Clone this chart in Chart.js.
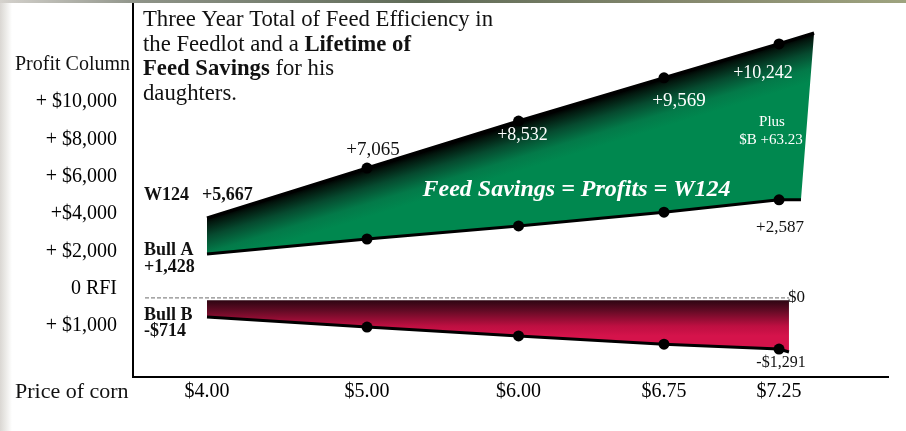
<!DOCTYPE html>
<html><head><meta charset="utf-8">
<script src="https://cdn.jsdelivr.net/npm/chart.js@4.4.1/dist/chart.umd.min.js"></script>
<style>
html,body{margin:0;padding:0;}
body{width:906px;height:431px;overflow:hidden;position:relative;background:linear-gradient(to right,#dad7d3 0px,#ecebe8 6px,#fff 12px);}
#topstrip{position:absolute;left:0;top:0;width:906px;height:3px;background:linear-gradient(to right,#d5d2cd 0,#8e9388 140px,#5f6b57 420px,#878a6f 700px,#9ea37f 906px);}
canvas{position:absolute;left:0;top:0;}
</style></head><body>
<div id="topstrip"></div>
<canvas id="c" width="906" height="431"></canvas>
<script>
// ---- data ----
const prices = ['$4.00', '$5.00', '$6.00', '$6.75', '$7.25'];
const priceSlot = [0, 1, 1.947, 2.856, 3.575];           // x position of each corn price
const rowLabels = ['+ $1,000', '0 RFI', '+ $2,000', '+$4,000', '+ $6,000', '+ $8,000', '+ $10,000'];
const w124Height = [2.89, 4.23, 5.49, 6.65, 7.56];        // top edge of green ribbon
const bullAHeight = [1.93, 2.33, 2.68, 3.05, 3.38];       // bottom edge of green ribbon
const bullBHeight = [0.24, -0.03, -0.27, -0.49, -0.62];   // bottom edge of red ribbon
const w124Tail = { x: 3.794, y: 7.85 };
const bullATail = { x: 3.712, y: 3.38 };
const bullBTail = { x: 3.637, y: -0.70 };
const bullBTop = 0.69;
const zeroLevel = 0.75;
const zeroStart = -0.3875;
const w124Values = ['+5,667', '+7,065', '+8,532', '+9,569', '+10,242'];
const bullAValues = ['+1,428', '+2,587'];
const bullBValues = ['-$714', '-$1,291'];

// ---- build datasets ----
const pts = (xs, ys) => xs.map((x, i) => ({ x, y: ys[i] }));
const w124Pts = [...pts(priceSlot, w124Height), w124Tail];
const bullAPts = [...pts(priceSlot, bullAHeight), bullATail];
const bullBPts = [...pts(priceSlot, bullBHeight), bullBTail];
const greenShape = [...w124Pts, ...bullAPts.slice().reverse()];
const redShape = [{ x: priceSlot[0], y: bullBTop }, { x: bullBTail.x, y: bullBTop }, ...bullBPts.slice().reverse()];

const SERIF = '"Liberation Serif", "Times New Roman", serif';
const dotR = c => (c.dataIndex > 0 && c.dataIndex < priceSlot.length) ? 5.5 : 0;

function greenFill(c) {
  const ch = c.chart;
  if (!ch.chartArea) return '#00874f';
  const { x, y } = ch.scales;
  const x0 = x.getPixelForValue(priceSlot[0]), y0 = y.getPixelForValue(w124Height[0]);
  const x1 = x.getPixelForValue(w124Tail.x), y1 = y.getPixelForValue(w124Tail.y);
  const dx = x1 - x0, dy = y1 - y0, L = Math.hypot(dx, dy);
  const nx = -dy / L, ny = dx / L;
  const g = ch.ctx.createLinearGradient(x0, y0, x0 + nx * 46, y0 + ny * 46);
  g.addColorStop(0, '#000000');
  g.addColorStop(0.1, '#03170e');
  g.addColorStop(0.38, '#064a2f');
  g.addColorStop(0.72, '#037a49');
  g.addColorStop(1, '#00884f');
  return g;
}
function redFill(c) {
  const ch = c.chart;
  if (!ch.chartArea) return '#d41249';
  const y = ch.scales.y;
  const y0 = y.getPixelForValue(bullBTop), y1 = y.getPixelForValue(bullBHeight[2]);
  const g = ch.ctx.createLinearGradient(0, y0, 0, y1);
  g.addColorStop(0, '#2c0512');
  g.addColorStop(0.3, '#640b25');
  g.addColorStop(0.72, '#bd0f41');
  g.addColorStop(1, '#d5134b');
  return g;
}

const noPad = s => { s.paddingTop = 0; s.paddingBottom = 0; s.paddingLeft = 0; s.paddingRight = 0; };

const labelPlugin = {
  id: 'labels',
  afterDatasetsDraw(chart) {
    const { ctx, chartArea } = chart;
    const X = v => chart.scales.x.getPixelForValue(v);
    const Y = v => chart.scales.y.getPixelForValue(v);
    const t = (txt, px, py, font, color, align) => {
      ctx.save();
      ctx.font = font; ctx.fillStyle = color; ctx.textAlign = align || 'center'; ctx.textBaseline = 'middle';
      ctx.fillText(txt, px, py);
      ctx.restore();
    };
    const L = chartArea.left + 11;
    // left bold labels
    t('W124', L, Y(w124Height[0]) - 23, 'bold 18px ' + SERIF, '#111', 'left');
    t(w124Values[0], X(priceSlot[0]) - 5, Y(w124Height[0]) - 23, 'bold 18px ' + SERIF, '#111', 'left');
    t('Bull A', L, Y(bullAHeight[0]) - 4, 'bold 18px ' + SERIF, '#111', 'left');
    t(bullAValues[0], L, Y(bullAHeight[0]) + 13, 'bold 18px ' + SERIF, '#111', 'left');
    t('Bull B', L, Y(bullBHeight[0]) - 2, 'bold 18px ' + SERIF, '#111', 'left');
    t(bullBValues[0], L, Y(bullBHeight[0]) + 14, 'bold 18px ' + SERIF, '#111', 'left');
    // W124 values
    t(w124Values[1], X(priceSlot[1]) + 6, Y(w124Height[1]) - 18, '19px ' + SERIF, '#111');
    t(w124Values[2], X(priceSlot[2]) + 4, Y(w124Height[2]) + 14, '18px ' + SERIF, '#fff');
    t(w124Values[3], X(priceSlot[3]) + 15, Y(w124Height[3]) + 23, '19px ' + SERIF, '#fff');
    t(w124Values[4], X(priceSlot[4]) - 16, Y(w124Height[4]) + 29, '18px ' + SERIF, '#fff');
    t('Plus', X(priceSlot[4]) - 7, Y(w124Height[4]) + 78, '15px ' + SERIF, '#fff');
    t('$B +63.23', X(priceSlot[4]) - 8, Y(w124Height[4]) + 96, '15px ' + SERIF, '#fff');
    t(bullAValues[1], X(priceSlot[4]) + 1, Y(bullAHeight[4]) + 28, '17px ' + SERIF, '#111');
    t('$0', X(bullBTail.x) - 1, Y(zeroLevel), '17px ' + SERIF, '#111', 'left');
    t(bullBValues[1], X(priceSlot[4]) + 2, Y(bullBHeight[4]) + 14, '16px ' + SERIF, '#111');
    // banner
    t('Feed Savings = Profits = W124', X(priceSlot[2]) + 58, Y(w124Height[2]) + 69, 'italic bold 24px ' + SERIF, '#fff');
  },
  afterDraw(chart) {
    const { ctx, chartArea } = chart;
    ctx.save();
    ctx.fillStyle = '#111'; ctx.textBaseline = 'middle'; ctx.textAlign = 'left';
    ctx.font = '20px ' + SERIF;
    ctx.fillText('Profit Column', 15, chart.scales.y.getPixelForValue(rowLabels.length));
    ctx.font = '22px ' + SERIF;
    ctx.fillText('Price of corn', 15, chartArea.bottom + 15);
    // title
    const lines = [
      [['Three Year Total of Feed Efficiency in', false]],
      [['the Feedlot and a ', false], ['Lifetime of', true]],
      [['Feed Savings', true], [' for his', false]],
      [['daughters.', false]]
    ];
    const size = 23;
    const fnt = b => (b ? 'bold ' : '') + size + 'px ' + SERIF;
    ctx.font = fnt(false);
    const w1 = ctx.measureText(lines[0][0][0]).width;
    const sx = Math.min(1, 350 / w1);
    ctx.textBaseline = 'alphabetic';
    const x0 = chartArea.left + 10;
    lines.forEach((line, i) => {
      let cx = 0;
      const by = chartArea.top + 22 + i * 24.7;
      line.forEach(([txt, b]) => {
        ctx.font = fnt(b);
        ctx.save();
        ctx.translate(x0 + cx * sx, by);
        ctx.scale(sx, 1);
        ctx.fillText(txt, 0, 0);
        ctx.restore();
        cx += ctx.measureText(txt).width;
      });
    });
    ctx.restore();
  }
};

new Chart(document.getElementById('c'), {
  type: 'line',
  data: {
    datasets: [
      { data: greenShape, fill: 'shape', backgroundColor: greenFill, borderWidth: 0, borderColor: 'rgba(0,0,0,0)', pointRadius: 0, order: 10 },
      { data: redShape, fill: 'shape', backgroundColor: redFill, borderWidth: 0, borderColor: 'rgba(0,0,0,0)', pointRadius: 0, order: 10 },
      { data: [{ x: zeroStart, y: zeroLevel }, { x: bullBTail.x, y: zeroLevel }], borderColor: '#8a8a8a', borderWidth: 1.2, borderDash: [4, 2], pointRadius: 0, fill: false, order: 5 },
      { data: w124Pts, borderColor: '#000', borderWidth: 3.5, pointRadius: dotR, pointBackgroundColor: '#000', pointBorderWidth: 0, fill: false, order: 1 },
      { data: bullAPts, borderColor: '#000', borderWidth: 3, pointRadius: dotR, pointBackgroundColor: '#000', pointBorderWidth: 0, fill: false, order: 1 },
      { data: bullBPts, borderColor: '#000', borderWidth: 3, pointRadius: dotR, pointBackgroundColor: '#000', pointBorderWidth: 0, fill: false, order: 1 }
    ]
  },
  options: {
    responsive: false,
    animation: false,
    events: [],
    layout: { padding: { top: 4, right: 18, left: 0, bottom: 0 } },
    elements: { line: { tension: 0 } },
    plugins: { legend: { display: false }, tooltip: { enabled: false } },
    scales: {
      x: {
        type: 'linear', min: -0.4625, max: 4.256,
        grid: { display: false, drawTicks: false },
        border: { display: true, color: '#000', width: 2 },
        afterBuildTicks: s => { s.ticks = priceSlot.map(v => ({ value: v })); },
        afterFit: s => { s.height = 54; noPad(s); },
        ticks: { autoSkip: false, maxRotation: 0, padding: 3, color: '#000', font: { family: SERIF, size: 20 }, callback: (v, i) => prices[i] }
      },
      y: {
        type: 'linear', min: -1.37, max: 8.63,
        grid: { display: false, drawTicks: false },
        border: { display: true, color: '#000', width: 2 },
        afterBuildTicks: s => { s.ticks = rowLabels.map((_, i) => ({ value: i })); },
        afterFit: s => { s.width = 133; noPad(s); },
        ticks: { autoSkip: false, padding: 16, color: '#000', font: { family: SERIF, size: 20 }, callback: (v, i) => rowLabels[i] }
      }
    }
  },
  plugins: [labelPlugin]
});
</script></body></html>
